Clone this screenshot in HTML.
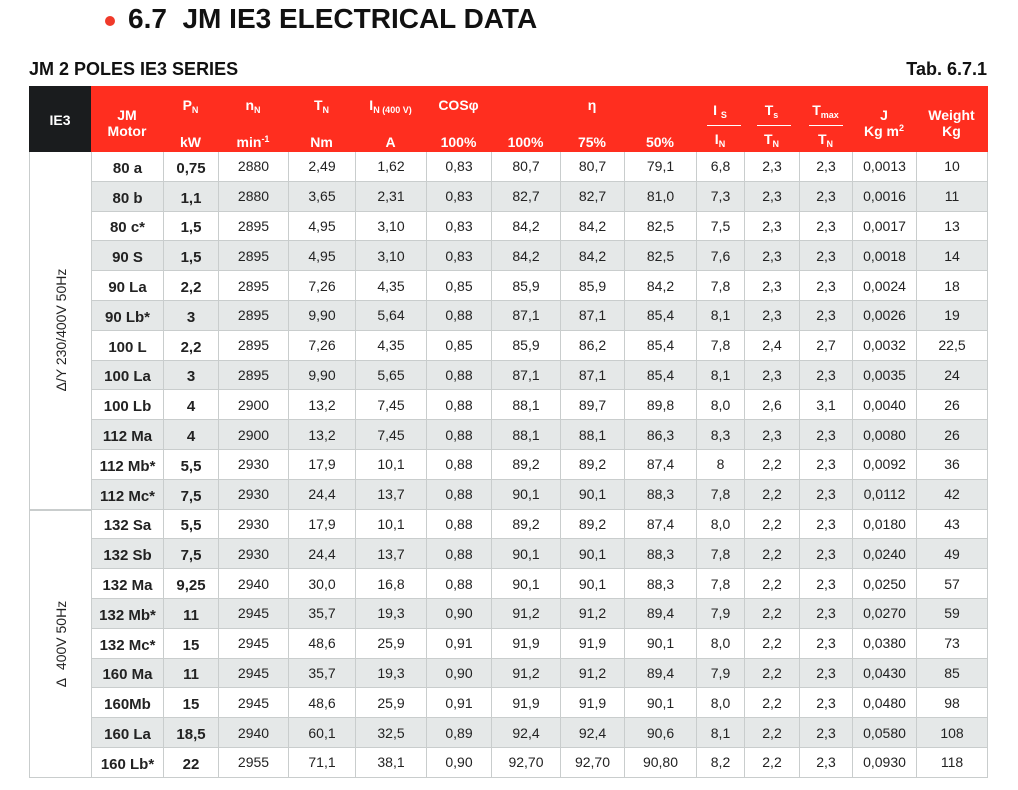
<!DOCTYPE html>
<html><head><meta charset="utf-8"><style>
body{margin:0;width:1018px;height:790px;background:#fff;font-family:"Liberation Sans",sans-serif;position:relative;overflow:hidden;color:#1a1a1a}
.a{position:absolute}
.h{position:absolute;color:#fff;font-weight:bold;font-size:14px;text-align:center;line-height:16px}
sub{font-size:9px;vertical-align:-3px}
sup{font-size:9px;vertical-align:5px;line-height:0}
#t{position:absolute;left:91px;top:152px;width:896px;border-left:1px solid #c9cdcd;box-sizing:content-box}
.r{display:flex;height:29.8px}
.r:nth-child(even){background:#e5e8e8}
.r>div{box-sizing:border-box;height:100%;display:flex;align-items:center;justify-content:center;border-right:1px solid #c9cdcd;border-bottom:1px solid #c9cdcd;font-size:14px;color:#222}
.r>div:nth-child(1),.r>div:nth-child(2){font-weight:bold;font-size:15px;padding-top:4px}
.r>div:nth-child(1){width:72px}.r>div:nth-child(2){width:55px}.r>div:nth-child(3){width:70px}.r>div:nth-child(4){width:67px}.r>div:nth-child(5){width:71px}.r>div:nth-child(6){width:65px}.r>div:nth-child(7){width:69px}.r>div:nth-child(8){width:64px}.r>div:nth-child(9){width:72px}.r>div:nth-child(10){width:48px}.r>div:nth-child(11){width:55px}.r>div:nth-child(12){width:53px}.r>div:nth-child(13){width:64px}.r>div:nth-child(14){width:71px}
.g{position:absolute;left:29px;width:62px;box-sizing:border-box;border:1px solid #c9cdcd;border-top:none;border-right:none;background:#fff}
.rot{position:absolute;left:50%;top:50%;transform:translate(-50%,-50%) rotate(-90deg);white-space:nowrap;font-size:14px;color:#222}
</style></head><body>
<div class="a" style="left:105px;top:16px;width:10px;height:10px;border-radius:50%;background:#f03a2a"></div>
<div class="a" style="left:128px;top:3px;font-size:28px;font-weight:bold;color:#111;white-space:nowrap">6.7&nbsp; JM IE3 ELECTRICAL DATA</div>
<div class="a" style="left:29px;top:59px;font-size:18px;font-weight:bold;color:#111">JM 2 POLES IE3 SERIES</div>
<div class="a" style="right:31px;top:59px;font-size:18px;font-weight:bold;color:#111">Tab. 6.7.1</div>
<div class="a" style="left:29px;top:86px;width:62px;height:66px;background:#1a1c1e"></div>
<div class="a" style="left:91px;top:86px;width:897px;height:66px;background:#ff2e1f"></div>
<div class="h" style="left:29px;top:112px;width:62px">IE3</div>
<div class="h" style="left:91px;top:107px;width:72px">JM<br>Motor</div>
<div class="h" style="left:163px;top:97px;width:55px">P<sub>N</sub></div>
<div class="h" style="left:218px;top:97px;width:70px">n<sub>N</sub></div>
<div class="h" style="left:288px;top:97px;width:67px">T<sub>N</sub></div>
<div class="h" style="left:355px;top:97px;width:71px">I<sub>N (400 V)</sub></div>
<div class="h" style="left:426px;top:97px;width:65px">COSφ</div>
<div class="h" style="left:560px;top:97px;width:64px">η</div>
<div class="h" style="left:163px;top:134px;width:55px">kW</div>
<div class="h" style="left:218px;top:134px;width:70px">min<sup>-1</sup></div>
<div class="h" style="left:288px;top:134px;width:67px">Nm</div>
<div class="h" style="left:355px;top:134px;width:71px">A</div>
<div class="h" style="left:426px;top:134px;width:65px">100%</div>
<div class="h" style="left:491px;top:134px;width:69px">100%</div>
<div class="h" style="left:560px;top:134px;width:64px">75%</div>
<div class="h" style="left:624px;top:134px;width:72px">50%</div>
<div class="h" style="left:696px;top:102px;width:48px">I <sub>S</sub></div>
<div class="a" style="left:707px;top:125px;width:34px;height:1px;background:#fff"></div>
<div class="h" style="left:696px;top:131px;width:48px">I<sub>N</sub></div>
<div class="h" style="left:744px;top:102px;width:55px">T<sub>s</sub></div>
<div class="a" style="left:757px;top:125px;width:34px;height:1px;background:#fff"></div>
<div class="h" style="left:744px;top:131px;width:55px">T<sub>N</sub></div>
<div class="h" style="left:799px;top:102px;width:53px">T<sub>max</sub></div>
<div class="a" style="left:809px;top:125px;width:34px;height:1px;background:#fff"></div>
<div class="h" style="left:799px;top:131px;width:53px">T<sub>N</sub></div>
<div class="h" style="left:852px;top:107px;width:64px">J<br>Kg m<sup>2</sup></div>
<div class="h" style="left:916px;top:107px;width:71px">Weight<br>Kg</div>
<div class="g" style="top:152px;height:357.6px"><div class="rot">Δ/Y 230/400V 50Hz</div></div>
<div class="g" style="top:509.6px;height:268.2px;border-top:1px solid #c9cdcd"><div class="rot">Δ&nbsp; 400V 50Hz</div></div>
<div id="t">
<div class="r"><div>80 a</div><div>0,75</div><div>2880</div><div>2,49</div><div>1,62</div><div>0,83</div><div>80,7</div><div>80,7</div><div>79,1</div><div>6,8</div><div>2,3</div><div>2,3</div><div>0,0013</div><div>10</div></div>
<div class="r"><div>80 b</div><div>1,1</div><div>2880</div><div>3,65</div><div>2,31</div><div>0,83</div><div>82,7</div><div>82,7</div><div>81,0</div><div>7,3</div><div>2,3</div><div>2,3</div><div>0,0016</div><div>11</div></div>
<div class="r"><div>80 c*</div><div>1,5</div><div>2895</div><div>4,95</div><div>3,10</div><div>0,83</div><div>84,2</div><div>84,2</div><div>82,5</div><div>7,5</div><div>2,3</div><div>2,3</div><div>0,0017</div><div>13</div></div>
<div class="r"><div>90 S</div><div>1,5</div><div>2895</div><div>4,95</div><div>3,10</div><div>0,83</div><div>84,2</div><div>84,2</div><div>82,5</div><div>7,6</div><div>2,3</div><div>2,3</div><div>0,0018</div><div>14</div></div>
<div class="r"><div>90 La</div><div>2,2</div><div>2895</div><div>7,26</div><div>4,35</div><div>0,85</div><div>85,9</div><div>85,9</div><div>84,2</div><div>7,8</div><div>2,3</div><div>2,3</div><div>0,0024</div><div>18</div></div>
<div class="r"><div>90 Lb*</div><div>3</div><div>2895</div><div>9,90</div><div>5,64</div><div>0,88</div><div>87,1</div><div>87,1</div><div>85,4</div><div>8,1</div><div>2,3</div><div>2,3</div><div>0,0026</div><div>19</div></div>
<div class="r"><div>100 L</div><div>2,2</div><div>2895</div><div>7,26</div><div>4,35</div><div>0,85</div><div>85,9</div><div>86,2</div><div>85,4</div><div>7,8</div><div>2,4</div><div>2,7</div><div>0,0032</div><div>22,5</div></div>
<div class="r"><div>100 La</div><div>3</div><div>2895</div><div>9,90</div><div>5,65</div><div>0,88</div><div>87,1</div><div>87,1</div><div>85,4</div><div>8,1</div><div>2,3</div><div>2,3</div><div>0,0035</div><div>24</div></div>
<div class="r"><div>100 Lb</div><div>4</div><div>2900</div><div>13,2</div><div>7,45</div><div>0,88</div><div>88,1</div><div>89,7</div><div>89,8</div><div>8,0</div><div>2,6</div><div>3,1</div><div>0,0040</div><div>26</div></div>
<div class="r"><div>112 Ma</div><div>4</div><div>2900</div><div>13,2</div><div>7,45</div><div>0,88</div><div>88,1</div><div>88,1</div><div>86,3</div><div>8,3</div><div>2,3</div><div>2,3</div><div>0,0080</div><div>26</div></div>
<div class="r"><div>112 Mb*</div><div>5,5</div><div>2930</div><div>17,9</div><div>10,1</div><div>0,88</div><div>89,2</div><div>89,2</div><div>87,4</div><div>8</div><div>2,2</div><div>2,3</div><div>0,0092</div><div>36</div></div>
<div class="r"><div>112 Mc*</div><div>7,5</div><div>2930</div><div>24,4</div><div>13,7</div><div>0,88</div><div>90,1</div><div>90,1</div><div>88,3</div><div>7,8</div><div>2,2</div><div>2,3</div><div>0,0112</div><div>42</div></div>
<div class="r"><div>132 Sa</div><div>5,5</div><div>2930</div><div>17,9</div><div>10,1</div><div>0,88</div><div>89,2</div><div>89,2</div><div>87,4</div><div>8,0</div><div>2,2</div><div>2,3</div><div>0,0180</div><div>43</div></div>
<div class="r"><div>132 Sb</div><div>7,5</div><div>2930</div><div>24,4</div><div>13,7</div><div>0,88</div><div>90,1</div><div>90,1</div><div>88,3</div><div>7,8</div><div>2,2</div><div>2,3</div><div>0,0240</div><div>49</div></div>
<div class="r"><div>132 Ma</div><div>9,25</div><div>2940</div><div>30,0</div><div>16,8</div><div>0,88</div><div>90,1</div><div>90,1</div><div>88,3</div><div>7,8</div><div>2,2</div><div>2,3</div><div>0,0250</div><div>57</div></div>
<div class="r"><div>132 Mb*</div><div>11</div><div>2945</div><div>35,7</div><div>19,3</div><div>0,90</div><div>91,2</div><div>91,2</div><div>89,4</div><div>7,9</div><div>2,2</div><div>2,3</div><div>0,0270</div><div>59</div></div>
<div class="r"><div>132 Mc*</div><div>15</div><div>2945</div><div>48,6</div><div>25,9</div><div>0,91</div><div>91,9</div><div>91,9</div><div>90,1</div><div>8,0</div><div>2,2</div><div>2,3</div><div>0,0380</div><div>73</div></div>
<div class="r"><div>160 Ma</div><div>11</div><div>2945</div><div>35,7</div><div>19,3</div><div>0,90</div><div>91,2</div><div>91,2</div><div>89,4</div><div>7,9</div><div>2,2</div><div>2,3</div><div>0,0430</div><div>85</div></div>
<div class="r"><div>160Mb</div><div>15</div><div>2945</div><div>48,6</div><div>25,9</div><div>0,91</div><div>91,9</div><div>91,9</div><div>90,1</div><div>8,0</div><div>2,2</div><div>2,3</div><div>0,0480</div><div>98</div></div>
<div class="r"><div>160 La</div><div>18,5</div><div>2940</div><div>60,1</div><div>32,5</div><div>0,89</div><div>92,4</div><div>92,4</div><div>90,6</div><div>8,1</div><div>2,2</div><div>2,3</div><div>0,0580</div><div>108</div></div>
<div class="r"><div>160 Lb*</div><div>22</div><div>2955</div><div>71,1</div><div>38,1</div><div>0,90</div><div>92,70</div><div>92,70</div><div>90,80</div><div>8,2</div><div>2,2</div><div>2,3</div><div>0,0930</div><div>118</div></div>
</div>
</body></html>
